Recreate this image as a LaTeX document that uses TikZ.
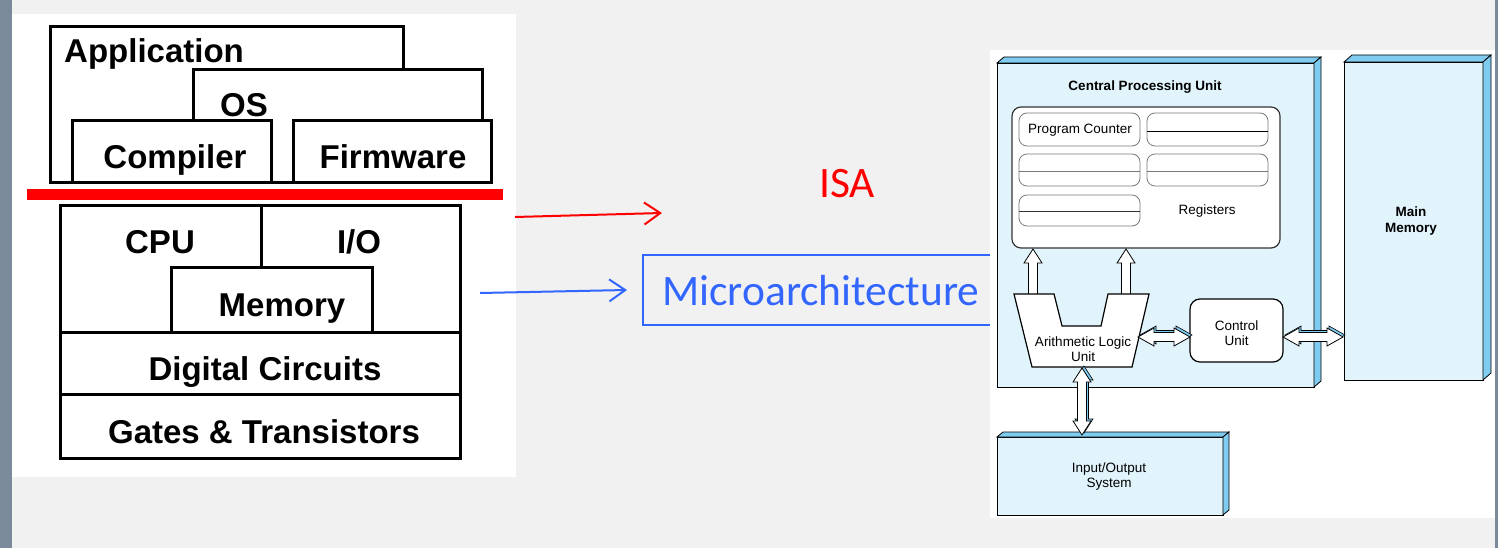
\documentclass[tikz,border=0pt]{standalone}
\usepackage{fontspec}
\setmainfont{Liberation Sans}
\newfontfamily\slidefont{Carlito}
\usetikzlibrary{arrows.meta,calc}

\definecolor{slidebg}{RGB}{241,241,241}
\definecolor{slideedge}{RGB}{122,138,154}
\definecolor{isared}{RGB}{255,0,0}
\definecolor{uarchblue}{RGB}{51,102,255}
\definecolor{cpufront}{RGB}{225,244,252}
\definecolor{cpuside}{RGB}{128,204,240}
\definecolor{cellgray}{RGB}{120,120,120}

\tikzset{
  layer/.style={draw=black, line width=3pt, fill=white},
  layertext/.style={font=\bfseries\fontsize{33}{40}\selectfont, anchor=base, inner sep=0pt},
  slidetext/.style={font=\slidefont\fontsize{43.5}{50}\selectfont, anchor=base, inner sep=0pt},
  slidearrow/.style={line width=2pt, -{Straight Barb[length=16pt,width=22pt]}},
  slab/.style={draw=black, line width=0.8pt, fill=cpufront},
  slabside/.style={draw=black, line width=0.8pt, fill=cpuside},
  unittext/.style={font=\fontsize{13.5}{15}\selectfont, inner sep=0pt, align=center},
  regcell/.style={draw=cellgray, line width=0.8pt, fill=white, rounded corners=8pt},
  blockarrow/.style={draw=black, line width=0.8pt, fill=white},
  blockshadow/.style={draw=black, line width=0.6pt, fill=cpuside, xshift=2pt, yshift=2pt}
}

% block arrows of the CPU picture
\newcommand\hdblarrow[4][blockarrow]{%
  \draw[#1] (#2,#4) -- (#2+16,#4-9) -- (#2+16,#4-4.5) -- (#3-16,#4-4.5) -- (#3-16,#4-9)
    -- (#3,#4) -- (#3-16,#4+9) -- (#3-16,#4+4.5) -- (#2+16,#4+4.5) -- (#2+16,#4+9) -- cycle;}
\newcommand\vdblarrow[4][blockarrow]{%
  \draw[#1] (#2,#3) -- (#2+9,#3+14) -- (#2+4.5,#3+14) -- (#2+4.5,#4-14) -- (#2+9,#4-14)
    -- (#2,#4) -- (#2-9,#4-14) -- (#2-4.5,#4-14) -- (#2-4.5,#3+14) -- (#2-9,#3+14) -- cycle;}
\newcommand\busarrowup[3]{%
  \draw[blockarrow] (#1-4.5,#3) -- (#1-4.5,#2+14) -- (#1-9,#2+14) -- (#1,#2)
    -- (#1+9,#2+14) -- (#1+4.5,#2+14) -- (#1+4.5,#3);}

\begin{document}
\begin{tikzpicture}[x=1pt,y=-1pt]
  \useasboundingbox (0,0) rectangle (1498,548);
  \fill[slidebg] (0,0) rectangle (1498,548);
  \fill[slideedge] (0,0) rectangle (12,548);
  \fill[slideedge] (1495,0) rectangle (1498,548);

  % layer stack
  \fill[white] (12,14) rectangle (516,477);
  \draw[layer] (50,27) rectangle (403,183);
  \node (app) [layertext, anchor=base west] at (64,63) {Application};
  \draw[layer] (193,70) rectangle (482,183);
  \node (os) [layertext] at (244,117) {OS};
  \draw[layer] (72,121) rectangle (271,183);
  \node (compiler) [layertext] at (175,168) {Compiler};
  \draw[layer] (293,121) rectangle (491,183);
  \node (firmware) [layertext] at (393,168) {Firmware};
  \fill[isared] (27,189) rectangle (503,200);
  \draw[layer] (60,205) rectangle (460,458);
  \draw[layer] (261,205) -- (261,267);
  \draw[layer] (171,267) rectangle (372,332);
  \draw[layer] (60,332) -- (460,332);
  \draw[layer] (60,394) -- (460,394);
  \node (cpu) [layertext] at (160,253) {CPU};
  \node (io) [layertext] at (359,253) {I/O};
  \node (memory) [layertext] at (282,316) {Memory};
  \node (digital) [layertext] at (265,380) {Digital Circuits};
  \node (gates) [layertext] at (264,443) {Gates \& Transistors};

  % ISA and microarchitecture
  \coordinate (isafrom) at (515,217);
  \coordinate (isato) at (662,213);
  \coordinate (uarchfrom) at (480,293);
  \coordinate (uarchto) at (627,290);
  \draw[slidearrow, isared] (isafrom) -- (isato);
  \draw[slidearrow, uarchblue] (uarchfrom) -- (uarchto);
  \node (isa) [slidetext, text=isared] at (847,197) {ISA};
  \draw[uarchblue, line width=2pt] (643,255) rectangle (998,325);
  \node (uarch) [slidetext, text=uarchblue, anchor=base west] at (662,305) {Microarchitecture};

  % von Neumann machine
  \fill[white] (990,50) rectangle (1495,518);
  \draw[slab] (997,63) rectangle (1314,387);
  \draw[slabside] (997,63) -- (1004,57) -- (1321,57) -- (1314,63) -- cycle;
  \draw[slabside] (1314,63) -- (1321,57) -- (1321,381) -- (1314,387) -- cycle;
  \node (cputitle) [unittext, font=\bfseries\fontsize{13.5}{15}\selectfont] at (1145,87) {Central Processing Unit};
  \draw[draw=black!80, line width=1.2pt, fill=white, rounded corners=9pt] (1012,107) rectangle (1280,248);
  \draw[regcell] (1019,113) rectangle (1140,146);
  \draw[regcell] (1147,113) rectangle (1268,146);
  \draw[regcell] (1019,154) rectangle (1140,186);
  \draw[regcell] (1147,154) rectangle (1268,186);
  \draw[regcell] (1019,195) rectangle (1140,226);
  \draw[black, line width=0.8pt] (1147,131) -- (1268,131);
  \draw[cellgray, line width=0.8pt] (1019,171) -- (1140,171);
  \draw[cellgray, line width=0.8pt] (1147,171) -- (1268,171);
  \draw[black!80, line width=0.8pt] (1019,211) -- (1140,211);
  \node (pc) [unittext] at (1080,130) {Program Counter};
  \node (registers) [unittext] at (1207,211) {Registers};

  \busarrowup{1033}{249}{294}
  \busarrowup{1126}{249}{294}
  \draw[draw=black, line width=1.2pt, fill=white] (1014,294) -- (1054,294) -- (1062,326) -- (1101,326)
    -- (1108,294) -- (1149,294) -- (1132,367) -- (1032,367) -- cycle;
  \node (alu) [unittext] at (1083,349) {Arithmetic Logic\\Unit};
  \node (cu) [draw=black, line width=1.2pt, fill=white, rounded corners=10pt,
    minimum width=93pt, minimum height=63pt] at (1236.5,330.5) {};
  \node (cutext) [unittext] at ($(cu.center)+(0,3)$) {Control\\Unit};

  \hdblarrow[blockshadow]{1138}{1190}{337}
  \hdblarrow{1138}{1190}{337}

  \draw[slab] (1344,62) rectangle (1483,380);
  \draw[slabside] (1344,62) -- (1352,55) -- (1491,55) -- (1483,62) -- cycle;
  \draw[slabside] (1483,62) -- (1491,55) -- (1491,373) -- (1483,380) -- cycle;
  \node (mainmem) [unittext, font=\bfseries\fontsize{13.5}{16}\selectfont] at (1411,221) {Main\\Memory};
  \hdblarrow[blockshadow]{1283}{1343}{337}
  \hdblarrow{1283}{1343}{337}

  \draw[slab] (997,437) rectangle (1223,515);
  \draw[slabside] (997,437) -- (1003,432) -- (1229,432) -- (1223,437) -- cycle;
  \draw[slabside] (1223,437) -- (1229,432) -- (1229,510) -- (1223,515) -- cycle;
  \node (iosys) [unittext] at (1109,477) {Input/Output\\System};
  \vdblarrow[blockshadow]{1082}{368}{435}
  \vdblarrow{1082}{368}{435}
\end{tikzpicture}
\end{document}
